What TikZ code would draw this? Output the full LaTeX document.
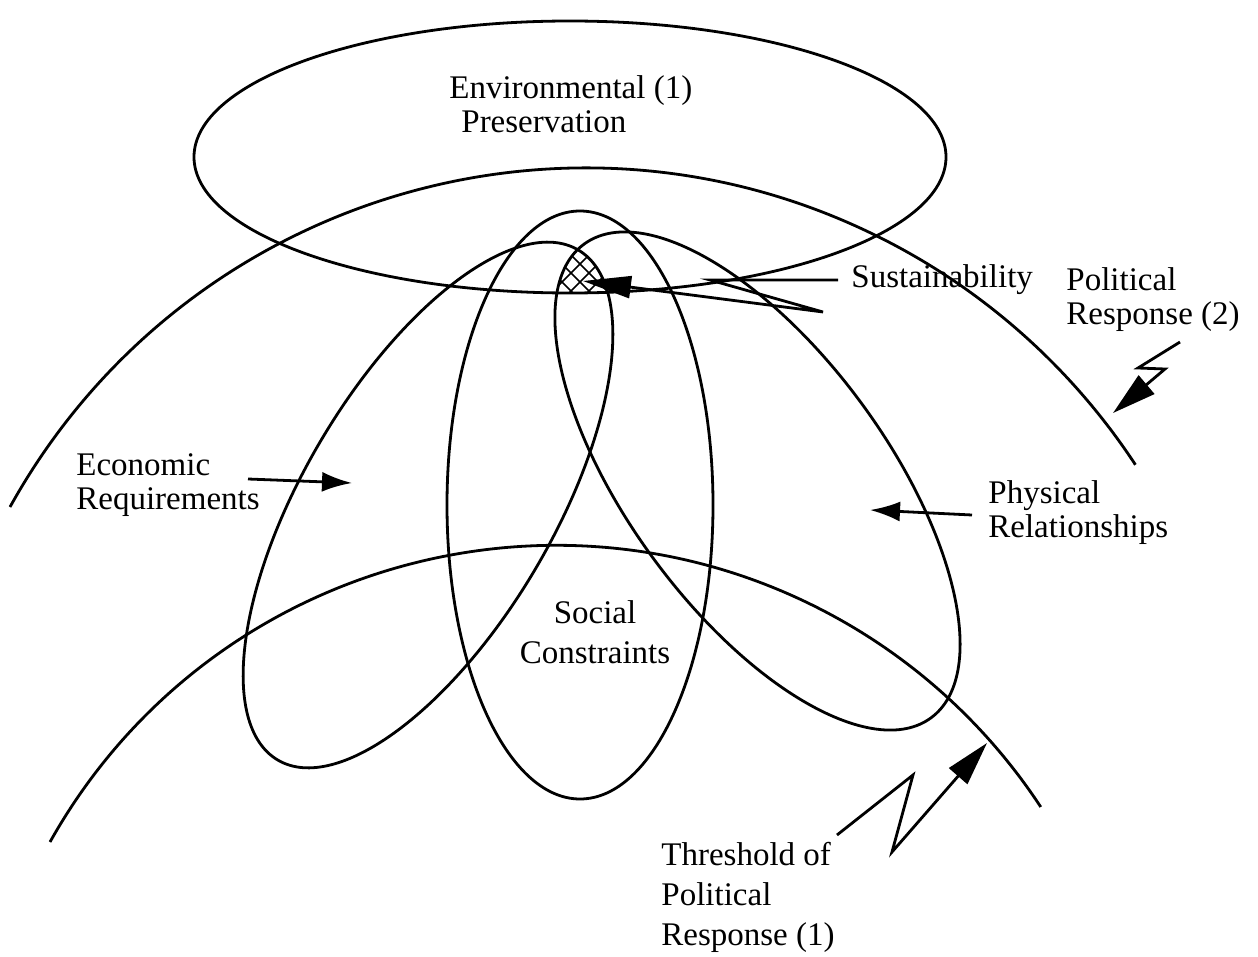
\documentclass[tikz,border=0pt]{standalone}
\usepackage{fontspec}
\setmainfont{Liberation Serif}
\usetikzlibrary{arrows.meta,positioning}

\begin{document}
\begin{tikzpicture}[x=0.5pt, y=-0.5pt, line width=1.4pt,
    every node/.style={font=\fontsize{16.5}{17}\selectfont, inner sep=0pt},
    bolt/.style={-{Triangle[length=22pt, width=12pt]}},
    pointer/.style={-{Latex[length=15pt, width=10pt]}}]
    \useasboundingbox (0,0) rectangle (1258,957);

    % Thresholds of political response
    \draw (10,507) arc[start angle=151, end angle=33.3, radius=329pt];
    \draw (50,842) arc[start angle=150.75, end angle=33.3, radius=290pt];

    % Environmental preservation
    \draw (570,157) ellipse [x radius=188pt, y radius=68pt];

    % Economic, social and physical ellipses
    \draw[rotate around={59.5:(428,505)}] (428,505) ellipse [x radius=148pt, y radius=62.5pt];
    \draw (580,505) ellipse [x radius=66.5pt, y radius=147pt];
    \draw[rotate around={-53.8:(757.5,481)}] (757.5,481) ellipse [x radius=146.8pt, y radius=64.9pt];

    % Sustainability region
    \begin{scope}
        \clip[rotate around={59.5:(428,505)}] (428,505) ellipse [x radius=148pt, y radius=62.5pt];
        \clip[rotate around={-53.8:(757.5,481)}] (757.5,481) ellipse [x radius=146.8pt, y radius=64.9pt];
        \clip (570,157) ellipse [x radius=188pt, y radius=68pt];
        \foreach \k in {-40,-22,...,140} {
            \draw[line width=0.8pt] (530+\k,300) -- ++(-60,-60);
            \draw[line width=0.8pt] (530+\k,300) -- ++(60,-60);
        }
    \end{scope}

    % Labels
    \node[anchor=west, align=left] (env) at (448,104) {Environmental (1)\\\hspace*{6pt}Preservation};
    \node[anchor=west] (sust) at (850,280) {Sustainability};
    \node[anchor=west, align=left] (pol2) at (1065,300) {Political\\Response (2)};
    \node[anchor=west, align=left] (econ) at (75,485) {Economic\\Requirements};
    \node[anchor=west, align=left] (phys) at (987,513) {Physical\\Relationships};
    \node[align=center, font=\fontsize{16.5}{20}\selectfont] (soc) at (595,632) {Social\\Constraints};
    \node[anchor=west, align=left, font=\fontsize{16.5}{20}\selectfont] (pol1) at (660,897) {Threshold of\\Political\\Response (1)};

    % Connector ends
    \coordinate (hatch) at (583,281);
    \coordinate (p2start) at (1180,342);
    \coordinate (p2tip) at (1113,413);
    \coordinate (p1start) at (837,835);
    \coordinate (p1tip) at (987,743);
    \coordinate (econstart) at (248,479);
    \coordinate (econtip) at (352,483);
    \coordinate (physstart) at (972,515);
    \coordinate (phystip) at (870,510);

    % Connection arrows
    \draw[-{Triangle[length=24pt, width=11pt]}] ([xshift=-6pt]sust.west) -- (710,280) -- (823,312) -- (hatch);
    \draw[bolt] (p2start) -- (1138,368) -- (1165,369) -- (p2tip);
    \draw[bolt] (p1start) -- (913,775) -- (892,852) -- (p1tip);
    \draw[pointer] (econstart) -- (econtip);
    \draw[pointer] (physstart) -- (phystip);
\end{tikzpicture}
\end{document}
